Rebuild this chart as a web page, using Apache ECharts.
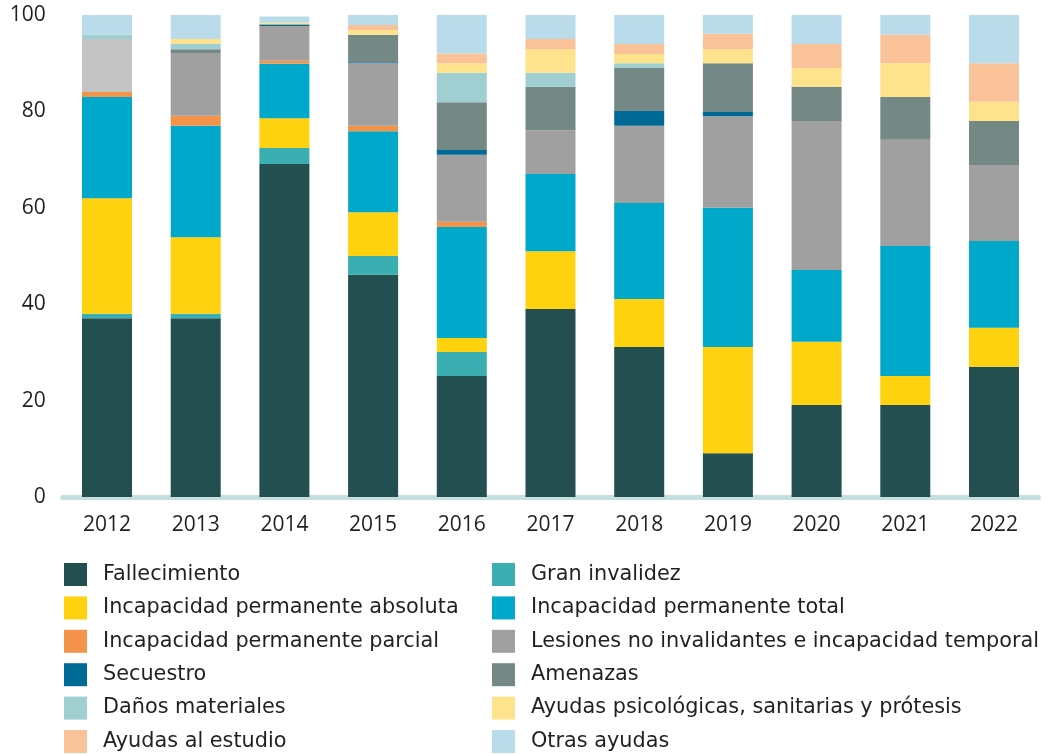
<!DOCTYPE html>
<html>
<head>
<meta charset="utf-8">
<script src="https://cdn.jsdelivr.net/npm/echarts@6/dist/echarts.min.js"></script>
<style>
html,body{margin:0;padding:0;background:#fff;}
#chart{width:1046px;height:754px;}
</style>
</head>
<body>
<div id="chart"></div>
<script>
const years = ['2012','2013','2014','2015','2016','2017','2018','2019','2020','2021','2022'];
const yTicks = [0, 20, 40, 60, 80, 100];

const fallecimiento = [37.1, 37.1, 69.1, 46.1, 25.1, 39.0, 31.1, 9.1, 19.1, 19.1, 27.0];
const granInvalidez = [0.9, 0.9, 3.3, 3.9, 5.0, 0, 0, 0, 0, 0, 0];
const incAbsoluta   = [24.0, 15.9, 6.2, 9.1, 2.9, 12.0, 10.0, 22.0, 13.1, 6.0, 8.1];
const incTotal      = [21.0, 23.1, 11.3, 16.8, 23.0, 16.0, 19.9, 28.9, 14.9, 27.0, 18.0];
const incParcial    = [1.0, 2.1, 0.6, 1.1, 1.1, 0, 0, 0, 0, 0, 0];
const lesiones      = [11.0, 13.0, 7.2, 13.0, 13.9, 9.1, 16.0, 19.0, 30.9, 22.0, 15.8];
const secuestro     = [0, 0, 0.2, 0.2, 1.0, 0, 3.1, 0.9, 0, 0, 0];
const amenazas      = [0, 0.8, 0.2, 5.7, 9.9, 9.0, 8.9, 10.1, 7.1, 8.9, 9.1];
const danos         = [0.9, 1.1, 0, 0, 6.1, 2.9, 1.0, 0, 0, 0, 0];
const psicologicas  = [0, 1.0, 0.3, 1.0, 2.0, 4.9, 1.9, 2.9, 3.9, 7.0, 4.0];
const estudio       = [0, 0, 0, 1.0, 2.0, 2.1, 2.1, 3.2, 5.0, 5.9, 8.0];
const otras         = [4.1, 5.0, 1.3, 2.1, 8.0, 5.0, 6.0, 3.9, 6.0, 4.1, 10.0];

const seriesDefs = [
  ['Fallecimiento', fallecimiento, '#234f50'],
  ['Gran invalidez', granInvalidez, '#3aaeb0'],
  ['Incapacidad permanente absoluta', incAbsoluta, '#ffd20f'],
  ['Incapacidad permanente total', incTotal, '#00a9c9'],
  ['Incapacidad permanente parcial', incParcial, '#f4934a'],
  ['Lesiones no invalidantes e incapacidad temporal', lesiones, '#a0a0a0'],
  ['Secuestro', secuestro, '#006a96'],
  ['Amenazas', amenazas, '#748885'],
  ['Daños materiales', danos, '#9fcfd1'],
  ['Ayudas psicológicas, sanitarias y prótesis', psicologicas, '#ffe38c'],
  ['Ayudas al estudio', estudio, '#f9c298'],
  ['Otras ayudas', otras, '#badcea']
];

const FONT = 'Open Sans';
const LFONT = 'DejaVu Sans';
const TXT = '#231f20';

const series = seriesDefs.map(([name, vals, color]) => ({
  name: name,
  type: 'bar',
  stack: 'total',
  barWidth: 50,
  itemStyle: { color: color },
  emphasis: { disabled: true },
  data: vals.map((v, i) => {
    if (name.startsWith('Lesiones') && i === 0) {
      return { value: v, itemStyle: { color: '#c4c3c4' } };
    }
    return v;
  })
}));

const leftNames = seriesDefs.filter((d, i) => i % 2 === 0).map(d => d[0]);
const rightNames = seriesDefs.filter((d, i) => i % 2 === 1).map(d => d[0]);

const legendBase = {
  type: 'plain',
  orient: 'vertical',
  top: 563,
  height: 191,
  padding: 0,
  itemWidth: 23,
  itemHeight: 23,
  itemGap: 10.4,
  icon: 'rect',
  selectedMode: false,
  textStyle: { fontFamily: LFONT, fontSize: 20.8, color: TXT, padding: [0, 0, 0, 11] }
};

const chart = echarts.init(document.getElementById('chart'), null, { renderer: 'canvas' });
chart.setOption({
  animation: false,
  backgroundColor: '#ffffff',
  grid: { left: 62.65, right: 7.65, top: 15, bottom: 257, containLabel: false },
  legend: [
    Object.assign({}, legendBase, { left: 64, data: leftNames }),
    Object.assign({}, legendBase, { left: 492, data: rightNames })
  ],
  xAxis: {
    type: 'category',
    data: years,
    axisLine: { show: true, lineStyle: { color: '#c3dfe0', width: 5 } },
    axisTick: { show: false },
    axisLabel: { fontFamily: FONT, fontSize: 21, color: TXT, margin: 18 }
  },
  yAxis: {
    type: 'value',
    min: yTicks[0],
    max: yTicks[yTicks.length - 1],
    interval: 20,
    axisLine: { show: false },
    axisTick: { show: false },
    splitLine: { show: false },
    axisLabel: { fontFamily: FONT, fontSize: 21, color: TXT, margin: 17 }
  },
  series: series
});
</script>
</body>
</html>
